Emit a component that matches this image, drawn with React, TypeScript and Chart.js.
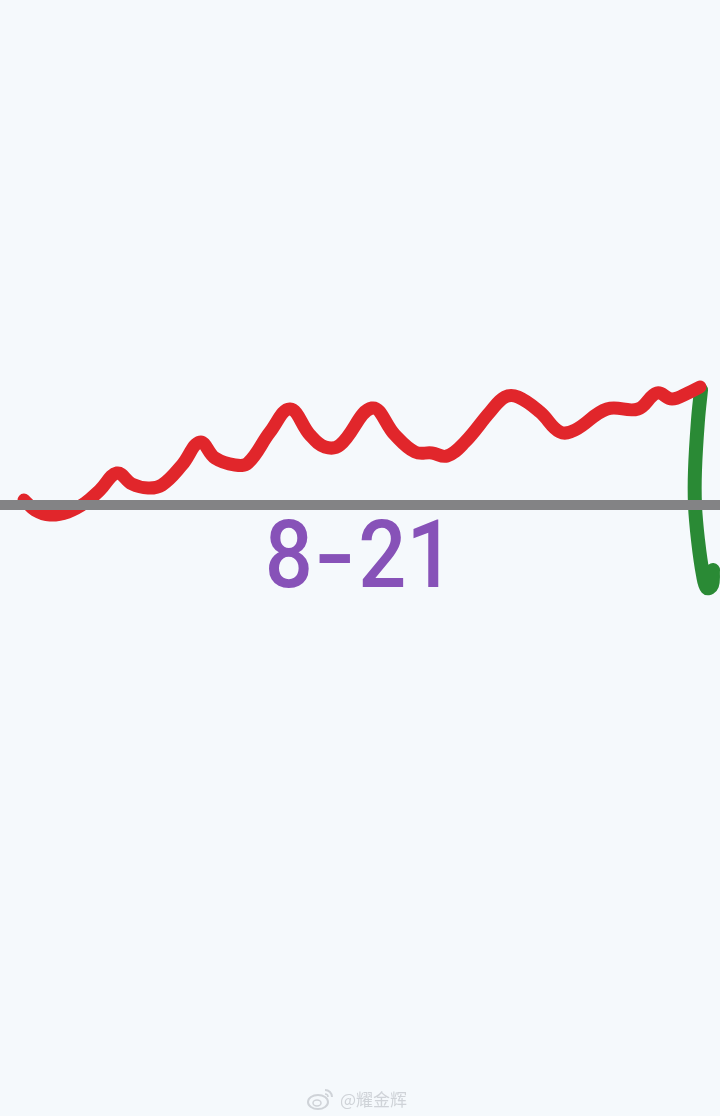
import React, { useEffect, useRef } from "react";
import { Chart, registerables } from "chart.js";

Chart.register(...registerables);

// Hand-drawn sketch: x in horizontal units (0-720), y in units above the grey baseline
const redX = [24, 35, 50, 68, 85, 100, 117, 132, 148, 162, 182, 200, 215, 235, 248, 270, 290, 310, 325, 340, 372, 395, 415, 432, 447, 465, 490, 505, 518, 540, 560, 575, 607, 638, 657, 672, 688, 700];
const redY = [5, -5, -10, -7, 2, 15, 32, 21, 17, 20, 40, 63, 47, 40, 42, 73, 96, 70, 58, 60, 97, 70, 53, 52, 49, 63, 93, 108, 108, 93, 73, 75, 96, 96, 112, 106, 112, 118];

const greenX = [701, 698, 695, 695, 698, 703, 707, 712, 713];
const greenY = [115, 85, 35, 0, -35, -70, -83, -80, -65];

const baseX = [0, 720];
const baseY = [0, 0];

const labelParts = ["8", "-", "21"];
const watermark = "@耀金辉";

const toPts = (xs: number[], ys: number[]) => xs.map((x, i) => ({ x, y: ys[i] }));

export default function App() {
  const ref = useRef<HTMLCanvasElement | null>(null);
  useEffect(() => {
    document.body.style.margin = "0";
    document.body.style.background = "#f5f9fc";
    const chart = new Chart(ref.current as HTMLCanvasElement, {
      type: "line",
      data: {
        datasets: [
          {
            data: toPts(baseX, baseY),
            borderColor: "#838385",
            borderWidth: 10,
            pointRadius: 0,
            tension: 0,
            clip: false as any,
          },
          {
            data: toPts(redX, redY),
            borderColor: "#e1262b",
            borderWidth: 13,
            pointRadius: 0,
            tension: 0.4,
            borderCapStyle: "round",
            borderJoinStyle: "round",
            clip: false as any,
          },
          {
            data: toPts(greenX, greenY),
            borderColor: "#2a8a35",
            borderWidth: 14,
            pointRadius: 0,
            tension: 0.4,
            borderCapStyle: "round",
            borderJoinStyle: "round",
            clip: false as any,
          },
        ],
      },
      options: {
        animation: false,
        responsive: false,
        maintainAspectRatio: false,
        layout: { padding: 0 },
        plugins: { legend: { display: false }, tooltip: { enabled: false } },
        scales: {
          x: { type: "linear", min: 0, max: 720, display: false },
          y: { type: "linear", min: -611, max: 505, display: false },
        },
      },
    });
    return () => chart.destroy();
  }, []);

  return (
    <div style={{ position: "fixed", left: 0, top: 0, width: 720, height: 1116, background: "#f5f9fc", overflow: "hidden" }}>
      <canvas ref={ref} width={720} height={1116} style={{ position: "absolute", left: 0, top: 0, width: 720, height: 1116 }} />
      <div
        style={{
          position: "absolute",
          left: 5,
          width: 712,
          top: 500,
          textAlign: "center",
          fontFamily: "Roboto, 'Noto Sans', sans-serif",
          fontWeight: 500,
          fontSize: 94,
          lineHeight: "110px",
          color: "#8752b8",
          whiteSpace: "nowrap",
        }}
      >
        <span style={{ display: "inline-block", transform: "scaleX(0.9)" }}>{labelParts[0]}</span>
        <span style={{ display: "inline-block", transform: "scaleX(1.25)", margin: "0 2px 0 3px" }}>{labelParts[1]}</span>
        <span style={{ display: "inline-block", transform: "scaleX(0.9)" }}>{labelParts[2]}</span>
      </div>
      <div
        style={{
          position: "absolute",
          left: 306,
          top: 1086,
          display: "flex",
          alignItems: "center",
          gap: 4,
          color: "#cfd3d8",
          fontFamily: "'Noto Sans CJK SC', 'Noto Sans', sans-serif",
          fontSize: 17,
        }}
      >
        <svg width="30" height="24" viewBox="0 0 30 24">
          <ellipse cx="12" cy="15" rx="10" ry="7" fill="none" stroke="#cfd3d8" strokeWidth="2" />
          <ellipse cx="11" cy="16" rx="4" ry="3" fill="none" stroke="#cfd3d8" strokeWidth="1.5" />
          <path d="M19 3 A7 7 0 0 1 26 10" fill="none" stroke="#cfd3d8" strokeWidth="2" />
          <path d="M19 7 A3 3 0 0 1 22 10" fill="none" stroke="#cfd3d8" strokeWidth="1.5" />
        </svg>
        <span>{watermark}</span>
      </div>
    </div>
  );
}
